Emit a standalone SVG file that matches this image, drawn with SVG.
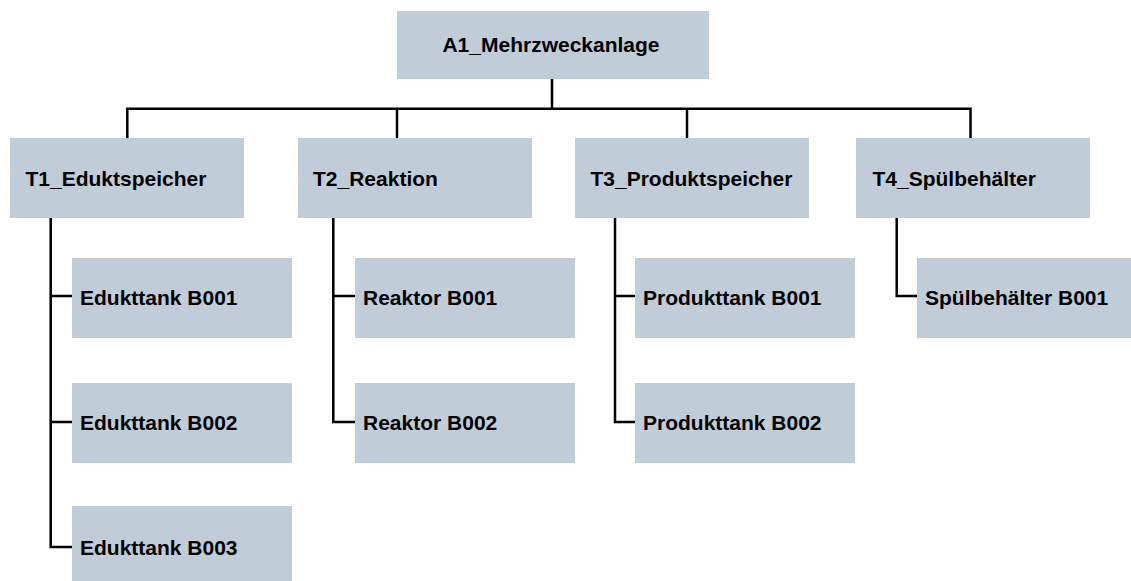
<svg xmlns="http://www.w3.org/2000/svg" width="1131" height="581" viewBox="0 0 1131 581">
<style>
.box{fill:#C0CDD8}
.t{font-family:"Liberation Sans",Arial,sans-serif;font-weight:bold;font-size:21px;fill:#000}
.c{fill:none;stroke:#000;stroke-width:2.5;stroke-linejoin:miter;stroke-linecap:butt}
</style>
<rect width="1131" height="581" fill="#fff"/>
<g id="connectors">
<path class="c" d="M552 79V108.7M127.3 138V108.7H970.5V138M397 108.7V138M687 108.7V138"/>
<path class="c" d="M50.7 218V547H72M50.7 422H72M50.7 296H72"/>
<path class="c" d="M333.3 218V422H355M333.3 296H355"/>
<path class="c" d="M615 218V422H635M615 296H635"/>
<path class="c" d="M896.7 218V296H917"/>
</g>
<g id="A1"><rect class="box" x="397" y="11" width="312" height="68"/><text class="t" x="551" y="52" text-anchor="middle">A1_Mehrzweckanlage</text></g>
<g id="T1"><rect class="box" x="10" y="138" width="234" height="80"/><text class="t" x="25.5" y="186">T1_Eduktspeicher</text></g>
<g id="T2"><rect class="box" x="298" y="138" width="234" height="80"/><text class="t" x="313" y="186">T2_Reaktion</text></g>
<g id="T3"><rect class="box" x="575" y="138" width="234" height="80"/><text class="t" x="590.5" y="186">T3_Produktspeicher</text></g>
<g id="T4"><rect class="box" x="856" y="138" width="234" height="80"/><text class="t" x="872.5" y="186">T4_Spülbehälter</text></g>
<g id="E1"><rect class="box" x="72" y="258" width="220" height="80"/><text class="t" x="80" y="305">Edukttank B001</text></g>
<g id="E2"><rect class="box" x="72" y="383" width="220" height="80"/><text class="t" x="80" y="430">Edukttank B002</text></g>
<g id="E3"><rect class="box" x="72" y="506" width="220" height="80"/><text class="t" x="80" y="555">Edukttank B003</text></g>
<g id="R1"><rect class="box" x="355" y="258" width="220" height="80"/><text class="t" x="363" y="305">Reaktor B001</text></g>
<g id="R2"><rect class="box" x="355" y="383" width="220" height="80"/><text class="t" x="363" y="430">Reaktor B002</text></g>
<g id="P1"><rect class="box" x="635" y="258" width="220" height="80"/><text class="t" x="643" y="305">Produkttank B001</text></g>
<g id="P2"><rect class="box" x="635" y="383" width="220" height="80"/><text class="t" x="643" y="430">Produkttank B002</text></g>
<g id="S1"><rect class="box" x="917" y="258" width="220" height="80"/><text class="t" x="925" y="305">Spülbehälter B001</text></g>
</svg>
